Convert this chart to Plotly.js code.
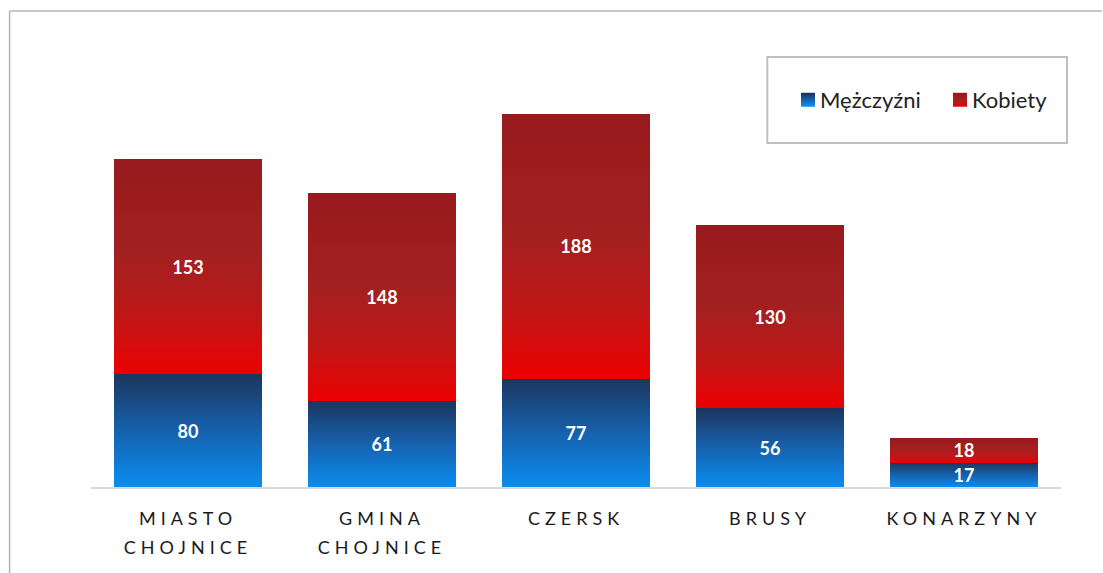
<!DOCTYPE html>
<html>
<head>
<meta charset="utf-8">
<script src="https://cdn.plot.ly/plotly-3.0.1.min.js"></script>
<style>
  html, body { margin: 0; padding: 0; background: #ffffff; overflow: hidden; }
  #chart { width: 1103px; height: 573px; }
  .xtick text { letter-spacing: 5px; }
  .barlayer .trace:nth-of-type(1) .point path { fill: url(#gradBlue) !important; }
  .barlayer .trace:nth-of-type(2) .point path { fill: url(#gradRed) !important; }
  .legend .traces:nth-of-type(1) .legendpoints path { fill: url(#gradBlue) !important; stroke: url(#gradBlue) !important; stroke-width: 2px !important; }
  .legend .traces:nth-of-type(2) .legendpoints path { fill: url(#gradRed) !important; stroke: url(#gradRed) !important; stroke-width: 2px !important; }
  .legend .legendtext { transform: translateX(-8px); }
</style>
</head>
<body>
<svg width="0" height="0" style="position:absolute">
  <defs>
    <linearGradient id="gradBlue" x1="0" y1="0" x2="0" y2="1">
      <stop offset="0" stop-color="#1C365E"/>
      <stop offset="0.45" stop-color="#175DA6"/>
      <stop offset="1" stop-color="#0A8DF0"/>
    </linearGradient>
    <linearGradient id="gradRed" x1="0" y1="0" x2="0" y2="1">
      <stop offset="0" stop-color="#981A1C"/>
      <stop offset="0.45" stop-color="#A32021"/>
      <stop offset="0.75" stop-color="#C21616"/>
      <stop offset="1" stop-color="#EC0000"/>
    </linearGradient>
  </defs>
</svg>
<div id="chart"></div>
<script>
const categories = ["MIASTO<br>CHOJNICE", "GMINA<br>CHOJNICE", "CZERSK", "BRUSY", "KONARZYNY"];
const men = [80, 61, 77, 56, 17];
const women = [153, 148, 188, 130, 18];
const seriesNames = ["Mężczyźni", "Kobiety"];

const labelFont = {family: "Lato, 'Noto Sans', sans-serif", size: 18, color: "#ffffff", weight: "bold"};

const traces = [
  {
    type: "bar", name: seriesNames[0], x: categories, y: men,
    marker: {color: "#175DA6"},
    text: men.map(String), textposition: "inside", insidetextanchor: "middle", textangle: 0,
    textfont: labelFont, hoverinfo: "none"
  },
  {
    type: "bar", name: seriesNames[1], x: categories, y: women,
    marker: {color: "#B01A1C"},
    text: women.map(String), textposition: "inside", insidetextanchor: "middle", textangle: 0,
    textfont: labelFont, hoverinfo: "none"
  }
];

const L = 91, R = 41, T = 40, B = 86, W = 1103, H = 573;
const pw = W - L - R, ph = H - T - B;
const px = v => (v - L) / pw;
const py = v => (H - B - v) / ph;
const frameColor = "#B4B4B4";

const layout = {
  width: W, height: H,
  margin: {l: L, r: R, t: T, b: B, pad: 0},
  paper_bgcolor: "#ffffff", plot_bgcolor: "#ffffff",
  barmode: "stack", bargap: 0.235,
  showlegend: true,
  uniformtext: {mode: "show", minsize: 18},
  font: {family: "Lato, 'Noto Sans', sans-serif", color: "#222222"},
  xaxis: {
    type: "category", showgrid: false, zeroline: false,
    showline: true, linecolor: "#D9D9D9", linewidth: 2,
    ticks: "", ticklabelstandoff: 14,
    tickfont: {family: "Lato, 'Noto Sans', sans-serif", size: 18, color: "#1a1a1a"},
    fixedrange: true
  },
  yaxis: {
    range: [0, ph / 1.408], showgrid: false, zeroline: false, showline: false,
    showticklabels: false, ticks: "", fixedrange: true
  },
  legend: {
    orientation: "h", traceorder: "normal",
    x: px(788), y: py(100), xanchor: "left", yanchor: "middle",
    font: {family: "Lato, 'Noto Sans', sans-serif", size: 22, color: "#222222"},
    bgcolor: "rgba(0,0,0,0)", borderwidth: 0,
    entrywidth: 107, entrywidthmode: "pixels"
  },
  shapes: [
    {type: "rect", xref: "paper", yref: "paper", x0: px(768), x1: px(1068), y0: py(143), y1: py(57),
     line: {color: "#BFBFBF", width: 2}, fillcolor: "rgba(0,0,0,0)", layer: "above"},
    {type: "line", xref: "paper", yref: "paper", x0: px(9.5), x1: px(9.5), y0: py(11), y1: py(573),
     line: {color: frameColor, width: 1.5}},
    {type: "line", xref: "paper", yref: "paper", x0: px(9.5), x1: px(1103), y0: py(11), y1: py(11),
     line: {color: frameColor, width: 1.5}}
  ]
};

function fixLines() {
  document.querySelectorAll(".xtick text").forEach(t => {
    const lines = t.querySelectorAll("tspan.line");
    lines.forEach((ln, i) => { if (i > 0) ln.setAttribute("dy", (i * 1.62) + "em"); });
  });
}

const gd = document.getElementById("chart");
Plotly.newPlot(gd, traces, layout, {displayModeBar: false, staticPlot: true}).then(() => {
  fixLines();
  gd.on("plotly_afterplot", fixLines);
});
</script>
</body>
</html>
